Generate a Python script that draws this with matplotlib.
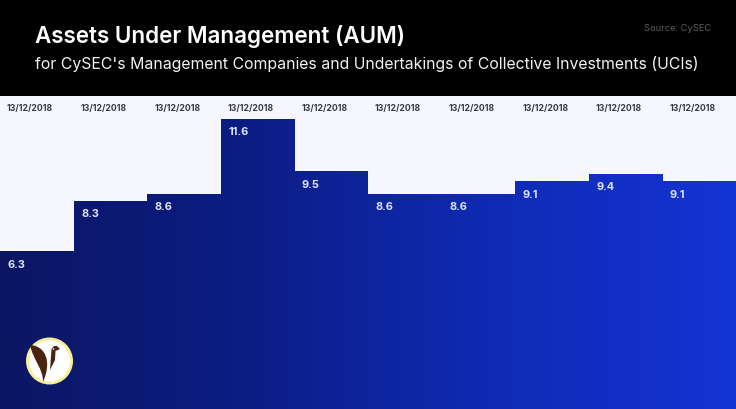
import numpy as np
import matplotlib
matplotlib.use("Agg")
import matplotlib.pyplot as plt
from matplotlib.patches import Circle, PathPatch
from matplotlib.path import Path
from matplotlib.colors import LinearSegmentedColormap

dates = ["13/12/2018"] * 10
values = [6.3, 8.3, 8.6, 11.6, 9.5, 8.6, 8.6, 9.1, 9.4, 9.1]
labels = ["6.3", "8.3", "8.6", "11.6", "9.5", "8.6", "8.6", "9.1", "9.4", "9.1"]
title = "Assets Under Management (AUM)"
subtitle = "for CySEC's Management Companies and Undertakings of Collective Investments (UCIs)"
source = "Source: CySEC"

W, H = 736, 409
plt.rcParams["font.family"] = ["Inter", "DejaVu Sans"]
fig = plt.figure(figsize=(W / 100, H / 100), dpi=100, facecolor="#000000")

def px(v):
    return v * 72 / 100

ax = fig.add_axes([0, 0, 1, 313 / H], facecolor="#F5F6FE")
ax.set_xlim(-0.5, 9.5)
ax.set_ylim(0, 313 / 25)
ax.axis("off")
ax.add_patch(plt.Rectangle((0, 0), 1, 1, transform=ax.transAxes, fc="#F5F6FE", ec="none", zorder=0))

cmap = LinearSegmentedColormap.from_list("aum", ["#0B1662", "#0C1D84", "#0F2BB4", "#1433D4"])
grad = np.linspace(0, 1, 256).reshape(1, -1)
bars = ax.bar(range(len(values)), values, width=1.0, color="none", ec="none", zorder=2)
for i, (b, v) in enumerate(zip(bars, values)):
    seg = grad * 0.1 + i / 10
    ax.imshow(seg, extent=(i - 0.5, i + 0.5, 0, v), aspect="auto", cmap=cmap,
              vmin=0, vmax=1, zorder=2, interpolation="bilinear")
    ax.text(i - 0.5 + 7.5 / 73.6, v - 13 / 25, labels[i], color="#DDE3FA", fontsize=px(11),
            fontweight="bold", ha="left", va="center", zorder=3)
ax.set_xlim(-0.5, 9.5)
ax.set_ylim(0, 313 / 25)

for i, d in enumerate(dates):
    ax.text(i - 0.5 + 7 / 73.6, (313 - 12) / 25, d, color="#3A3A44", fontsize=px(8.7),
            fontweight="bold", ha="left", va="center", zorder=3)

fig.text(35 / W, 1 - 36.5 / H, title, color="white", fontsize=px(22.4), fontweight="semibold",
         ha="left", va="center")
fig.text(35 / W, 1 - 63.5 / H, subtitle, color="#F2F2F2", fontsize=px(15.8), ha="left", va="center")
fig.text(711 / W, 1 - 28.5 / H, source, color="#5C5C5C", fontsize=px(9.3), ha="right", va="center")

# logo
logo = fig.add_axes([0, 0, 1, 1], facecolor="none")
logo.set_xlim(0, W)
logo.set_ylim(H, 0)
logo.axis("off")
logo.add_patch(Circle((49.5, 361), 23.5, fc="#F7EE9A", ec="none"))
logo.add_patch(Circle((49.5, 361), 20.5, fc="#FFFFFF", ec="none"))
wing = Path([(30, 345), (46, 346), (52, 362), (43, 382), (43, 368), (34, 362), (30, 345), (30, 345)],
            [Path.MOVETO, Path.CURVE4, Path.CURVE4, Path.CURVE4, Path.CURVE4, Path.CURVE4, Path.CURVE4, Path.CLOSEPOLY])
logo.add_patch(PathPatch(wing, fc="#4A2410", ec="none"))
head = Path([(50, 370), (51, 356), (51.5, 349), (54, 346), (57, 346), (60, 349), (55.5, 351), (55, 360), (50, 370), (50, 370)],
            [Path.MOVETO, Path.LINETO, Path.LINETO, Path.LINETO, Path.LINETO, Path.LINETO, Path.LINETO, Path.LINETO, Path.LINETO, Path.CLOSEPOLY])
logo.add_patch(PathPatch(head, fc="#4A2410", ec="none"))
logo.add_patch(Circle((53.5, 349), 0.8, fc="#FFFFFF", ec="none"))

fig.savefig("out.png", dpi=100, facecolor=fig.get_facecolor())
